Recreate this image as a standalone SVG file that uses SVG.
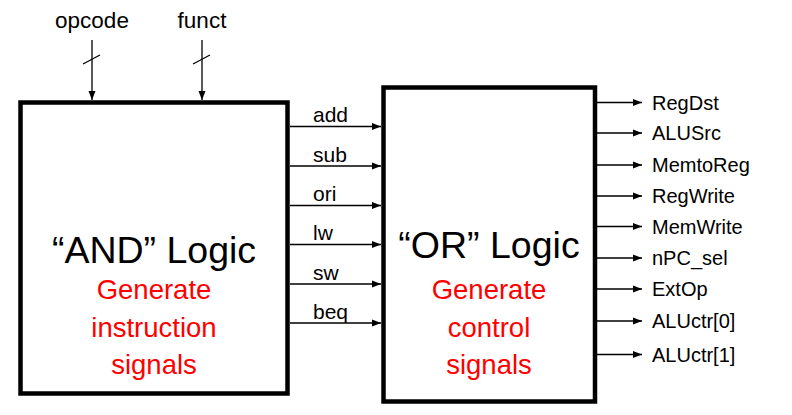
<svg xmlns="http://www.w3.org/2000/svg" width="792" height="415" viewBox="0 0 792 415">
<style>
.box{fill:#fff;stroke:#000;stroke-width:4.5}
.w{stroke:#000;stroke-width:1.3;fill:none}
.t{font-family:"Liberation Sans",Arial,sans-serif;fill:#000}
.s{font-size:20px}
.si{font-size:21px}
.big{font-size:37.5px}
.red{font-size:27.5px;fill:#ff0000}
.in{font-size:22.5px}
</style>
<defs>
<marker id="ah" markerUnits="userSpaceOnUse" markerWidth="10" markerHeight="8" refX="9" refY="4" orient="auto">
<path d="M0,0.5 L9,4 L0,7.5 Z" fill="#000"/>
</marker>
</defs>
<g id="and-logic">
<rect class="box" x="20.5" y="102.5" width="267" height="291"/>
<text class="t big" x="154" y="263" text-anchor="middle">“AND” Logic</text>
<text class="t red" x="154" y="299" text-anchor="middle">Generate</text>
<text class="t red" x="154" y="337" text-anchor="middle">instruction</text>
<text class="t red" x="154" y="374" text-anchor="middle">signals</text>
</g>
<g id="or-logic">
<rect class="box" x="383.5" y="87.5" width="211.5" height="314"/>
<text class="t big" x="489" y="258" text-anchor="middle">“OR” Logic</text>
<text class="t red" x="489" y="299" text-anchor="middle">Generate</text>
<text class="t red" x="489" y="337" text-anchor="middle">control</text>
<text class="t red" x="489" y="374" text-anchor="middle">signals</text>
</g>
<g id="connectors">
<line class="w" x1="92" y1="40" x2="92" y2="100" marker-end="url(#ah)"/>
<line class="w" x1="83" y1="64" x2="100" y2="55"/>
<line class="w" x1="202" y1="40" x2="202" y2="100" marker-end="url(#ah)"/>
<line class="w" x1="193" y1="64" x2="210" y2="55"/>
<line class="w" x1="290" y1="126.5" x2="381" y2="126.5" marker-end="url(#ah)"/>
<line class="w" x1="290" y1="166" x2="381" y2="166" marker-end="url(#ah)"/>
<line class="w" x1="290" y1="205.5" x2="381" y2="205.5" marker-end="url(#ah)"/>
<line class="w" x1="290" y1="244.5" x2="381" y2="244.5" marker-end="url(#ah)"/>
<line class="w" x1="290" y1="284" x2="381" y2="284" marker-end="url(#ah)"/>
<line class="w" x1="290" y1="323" x2="381" y2="323" marker-end="url(#ah)"/>
<line class="w" x1="597" y1="102.5" x2="642" y2="102.5" marker-end="url(#ah)"/>
<line class="w" x1="597" y1="133" x2="642" y2="133" marker-end="url(#ah)"/>
<line class="w" x1="597" y1="165" x2="642" y2="165" marker-end="url(#ah)"/>
<line class="w" x1="597" y1="196" x2="642" y2="196" marker-end="url(#ah)"/>
<line class="w" x1="597" y1="226.5" x2="642" y2="226.5" marker-end="url(#ah)"/>
<line class="w" x1="597" y1="258" x2="642" y2="258" marker-end="url(#ah)"/>
<line class="w" x1="597" y1="289" x2="642" y2="289" marker-end="url(#ah)"/>
<line class="w" x1="597" y1="321" x2="642" y2="321" marker-end="url(#ah)"/>
<line class="w" x1="597" y1="354.5" x2="642" y2="354.5" marker-end="url(#ah)"/>
</g>
<g id="labels">
<text class="t in" x="92" y="28" text-anchor="middle">opcode</text>
<text class="t in" x="202" y="28" text-anchor="middle">funct</text>
<text class="t si" x="313" y="122">add</text>
<text class="t si" x="313" y="161.5">sub</text>
<text class="t si" x="313" y="201">ori</text>
<text class="t si" x="313" y="240">lw</text>
<text class="t si" x="313" y="279.5">sw</text>
<text class="t si" x="313" y="318.5">beq</text>
<text class="t s" x="652" y="109.5">RegDst</text>
<text class="t s" x="652" y="140">ALUSrc</text>
<text class="t s" x="652" y="172">MemtoReg</text>
<text class="t s" x="652" y="203">RegWrite</text>
<text class="t s" x="652" y="233.5">MemWrite</text>
<text class="t s" x="652" y="265">nPC_sel</text>
<text class="t s" x="652" y="296">ExtOp</text>
<text class="t s" x="652" y="328">ALUctr[0]</text>
<text class="t s" x="652" y="361.5">ALUctr[1]</text>
</g>
</svg>
